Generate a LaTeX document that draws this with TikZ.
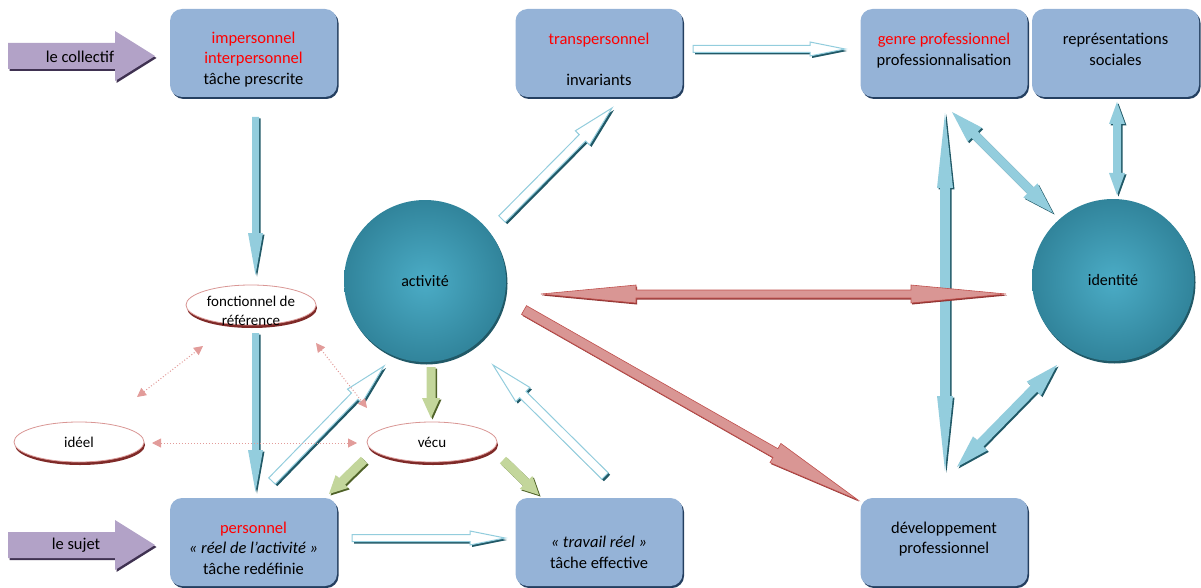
\documentclass[tikz,border=0pt]{standalone}
\usepackage{fontspec}
\setmainfont{Carlito}
\usetikzlibrary{calc,shapes.geometric,shadows,arrows.meta}

\definecolor{boxblue}{HTML}{95B3D7}
\definecolor{boxshade}{HTML}{243F60}
\definecolor{ballin}{HTML}{4BACC6}
\definecolor{ballout}{HTML}{31849B}
\definecolor{ballshade}{HTML}{215967}
\definecolor{arrblue}{HTML}{93CDDD}
\definecolor{arrshade}{HTML}{215967}
\definecolor{arrred}{HTML}{D99694}
\definecolor{arrredline}{HTML}{C0504D}
\definecolor{redshade}{HTML}{943634}
\definecolor{arrgreen}{HTML}{C3D69B}
\definecolor{greenshade}{HTML}{4F6228}
\definecolor{arrpurple}{HTML}{B2A2C7}
\definecolor{purpleshade}{HTML}{3F3151}
\definecolor{ellred}{HTML}{D99694}
\definecolor{ellshade}{HTML}{7F2A28}
\definecolor{dotred}{HTML}{E29C9A}

% fat arrow: [style]{from}{to}{half body}{half head}{head length}
\newcommand\fatarrow[6][]{%
  \path[#1] let \p1=(#2), \p2=(#3), \n1={atan2(\y2-\y1,\x2-\x1)},
    \n2={veclen(\x2-\x1,\y2-\y1)-#6} in
    ($(\p1)+(\n1+90:#4)$) -- ($(\p1)+(\n1:\n2)+(\n1+90:#4)$)
    -- ($(\p1)+(\n1:\n2)+(\n1+90:#5)$) -- (\p2)
    -- ($(\p1)+(\n1:\n2)+(\n1-90:#5)$) -- ($(\p1)+(\n1:\n2)+(\n1-90:#4)$)
    -- ($(\p1)+(\n1-90:#4)$) -- cycle;}
% double fat arrow, same arguments
\newcommand\dblarrow[6][]{%
  \path[#1] let \p1=(#2), \p2=(#3), \n1={atan2(\y2-\y1,\x2-\x1)},
    \n2={veclen(\x2-\x1,\y2-\y1)-#6}, \n3={#6} in
    (\p1) -- ($(\p1)+(\n1:\n3)+(\n1+90:#5)$) -- ($(\p1)+(\n1:\n3)+(\n1+90:#4)$)
    -- ($(\p1)+(\n1:\n2)+(\n1+90:#4)$) -- ($(\p1)+(\n1:\n2)+(\n1+90:#5)$)
    -- (\p2)
    -- ($(\p1)+(\n1:\n2)+(\n1-90:#5)$) -- ($(\p1)+(\n1:\n2)+(\n1-90:#4)$)
    -- ($(\p1)+(\n1:\n3)+(\n1-90:#4)$) -- ($(\p1)+(\n1:\n3)+(\n1-90:#5)$)
    -- cycle;}

\tikzset{
  box/.style={rectangle, rounded corners=12pt, fill=boxblue, minimum width=167pt,
    minimum height=88pt, inner sep=0pt,
    drop shadow={shadow xshift=1.5pt, shadow yshift=-2pt, fill=boxshade, opacity=1}},
  boxtext/.style={align=center, font=\fontsize{16.5}{20.5}\selectfont, inner sep=0pt},
  ball/.style={circle, minimum size=162pt, inner sep=0pt, inner color=ballin,
    outer color=ballout, font=\fontsize{16}{20}\selectfont,
    drop shadow={shadow xshift=1.5pt, shadow yshift=-2.5pt, fill=ballshade, opacity=1}},
  ell/.style={ellipse, draw=ellred, line width=0.8pt, fill=white, minimum width=130pt,
    minimum height=40pt, inner sep=0pt,
    drop shadow={shadow xshift=1pt, shadow yshift=-3pt, fill=ellshade, opacity=1}},
  elltext/.style={align=center, font=\fontsize{15}{19}\selectfont, inner sep=0pt},
  bluearr/.style={fill=arrblue,
    preaction={fill=arrshade, transform canvas={shift={(1.5pt,-1.5pt)}}}},
  hollowarr/.style={fill=white, draw=arrblue, line width=1pt,
    preaction={fill=arrshade, transform canvas={shift={(2pt,-2pt)}}}},
  redarr/.style={fill=arrred, draw=arrredline, line width=0.6pt,
    preaction={fill=redshade, transform canvas={shift={(1pt,-1.5pt)}}}},
  greenarr/.style={fill=arrgreen,
    preaction={fill=greenshade, transform canvas={shift={(1.5pt,-1.5pt)}}}},
  purplearr/.style={fill=arrpurple,
    preaction={fill=purpleshade, transform canvas={shift={(1.5pt,-2pt)}}}},
  dotarr/.style={dotred, dotted, line width=1pt,
    {Triangle[length=9pt,width=9pt]}-{Triangle[length=9pt,width=9pt]}},
}

\begin{document}
\begin{tikzpicture}[x=1pt,y=-1pt]
\useasboundingbox (0,0) rectangle (1201,588);

% boxes
\node[box] (impers) at (253.5,53) {};
\node[boxtext] at ([yshift=-6.5pt]impers.center)
  {\textcolor{red}{impersonnel}\\\textcolor{red}{interpersonnel}\\tâche prescrite};
\node[box] (transp) at (599,53) {};
\node[boxtext] at ([yshift=-6.5pt]transp.center)
  {\textcolor{red}{transpersonnel}\\\mbox{}\\invariants};
\node[box] (genre) at (944,53) {};
\node[boxtext] at ([yshift=-6.5pt]genre.center)
  {\textcolor{red}{genre professionnel}\\professionnalisation\\\mbox{}};
\node[box] (repres) at (1115.5,53) {};
\node[boxtext] at ([yshift=-6.5pt]repres.center)
  {représentations\\sociales\\\mbox{}};
\node[box] (perso) at (253.5,542) {};
\node[boxtext] at ([yshift=-6pt]perso.center)
  {\textcolor{red}{personnel}\\\textit{« réel de l’activité »}\\tâche redéfinie};
\node[box] (travail) at (599,542) {};
\node[boxtext] at ([yshift=-6pt]travail.center)
  {\mbox{}\\\textit{« travail réel »}\\tâche effective};
\node[box] (devel) at (944,542) {};
\node[boxtext] at ([yshift=-6pt]devel.center)
  {développement\\professionnel\\\mbox{}};

% circles
\node[ball] (activite) at (425,281) {activité};
\node[ball] (identite) at (1113,280) {identité};

% ellipses
\node[ell] (fonct) at (251,305) {};
\node[elltext] at ([yshift=-6pt]fonct.center) {fonctionnel de\\référence};
\node[ell] (ideel) at (79,442) {};
\node[elltext] at (ideel.center) {idéel};
\node[ell] (vecu) at (432,442) {};
\node[elltext] at (vecu.center) {vécu};

% arrow ends
\coordinate (col-a) at (8,56);      \coordinate (col-b) at (155,56);
\coordinate (suj-a) at (8,545);     \coordinate (suj-b) at (155,545);
\coordinate (b1-a) at (255.5,117);  \coordinate (b1-b) at (255.5,275);
\coordinate (b2-a) at (255.5,333);  \coordinate (b2-b) at (255.5,492);
\coordinate (d1-a) at (945,113);    \coordinate (d1-b) at (945,471);
\coordinate (d2-a) at (952,112);    \coordinate (d2-b) at (1053,213);
\coordinate (d3-a) at (1117,102);   \coordinate (d3-b) at (1117,195);
\coordinate (d4-a) at (1057,365);   \coordinate (d4-b) at (957,467);
\coordinate (r1-a) at (541,294);    \coordinate (r1-b) at (1006,294);
\coordinate (r2-a) at (524,310);    \coordinate (r2-b) at (858,500);
\coordinate (h1-a) at (693,49);     \coordinate (h1-b) at (845,49);
\coordinate (h2-a) at (352,538);    \coordinate (h2-b) at (505,538);
\coordinate (h3-a) at (272,481);    \coordinate (h3-b) at (384,366);
\coordinate (h4-a) at (605,476);    \coordinate (h4-b) at (493,365);
\coordinate (h5-a) at (502,219);    \coordinate (h5-b) at (612,108);
\coordinate (g1-a) at (431,367);    \coordinate (g1-b) at (431,418);
\coordinate (g2-a) at (364,460);    \coordinate (g2-b) at (329,494);
\coordinate (g3-a) at (503,460);    \coordinate (g3-b) at (539,495);
\coordinate (t1-a) at (152,443);    \coordinate (t1-b) at (357,443);
\coordinate (t2-a) at (137,397);    \coordinate (t2-b) at (203,346);
\coordinate (t3-a) at (316,343);    \coordinate (t3-b) at (367,408);

% purple arrows
\fatarrow[purplearr]{col-a}{col-b}{13pt}{25pt}{40pt}
\node[boxtext] (collectif) at (80,57) {le collectif};
\fatarrow[purplearr]{suj-a}{suj-b}{13pt}{25pt}{40pt}
\node[boxtext] (sujet) at (76,545) {le sujet};

% blue arrows
\fatarrow[bluearr]{b1-a}{b1-b}{3.5pt}{7.5pt}{42pt}
\fatarrow[bluearr]{b2-a}{b2-b}{3.5pt}{7.5pt}{42pt}
\dblarrow[bluearr]{d1-a}{d1-b}{5pt}{8pt}{75pt}
\dblarrow[bluearr]{d2-a}{d2-b}{4.5pt}{10pt}{32pt}
\dblarrow[bluearr]{d3-a}{d3-b}{4pt}{8pt}{22pt}
\dblarrow[bluearr]{d4-a}{d4-b}{4.5pt}{10pt}{33pt}

% red arrows
\dblarrow[redarr]{r1-a}{r1-b}{4pt}{9pt}{95pt}
\fatarrow[redarr]{r2-a}{r2-b}{5pt}{11pt}{95pt}

% hollow arrows
\fatarrow[hollowarr]{h1-a}{h1-b}{3.5pt}{7pt}{35pt}
\fatarrow[hollowarr]{h2-a}{h2-b}{3.5pt}{7pt}{35pt}
\fatarrow[hollowarr]{h3-a}{h3-b}{4.5pt}{10pt}{42pt}
\fatarrow[hollowarr]{h4-a}{h4-b}{4.5pt}{10pt}{42pt}
\fatarrow[hollowarr]{h5-a}{h5-b}{4.5pt}{10pt}{42pt}

% green arrows
\fatarrow[greenarr]{g1-a}{g1-b}{4.5pt}{9pt}{20pt}
\fatarrow[greenarr]{g2-a}{g2-b}{4.5pt}{9pt}{18pt}
\fatarrow[greenarr]{g3-a}{g3-b}{4.5pt}{9pt}{18pt}

% dotted links
\draw[dotarr] (t1-a) -- (t1-b);
\draw[dotarr] (t2-a) -- (t2-b);
\draw[dotarr] (t3-a) -- (t3-b);

\end{tikzpicture}
\end{document}
